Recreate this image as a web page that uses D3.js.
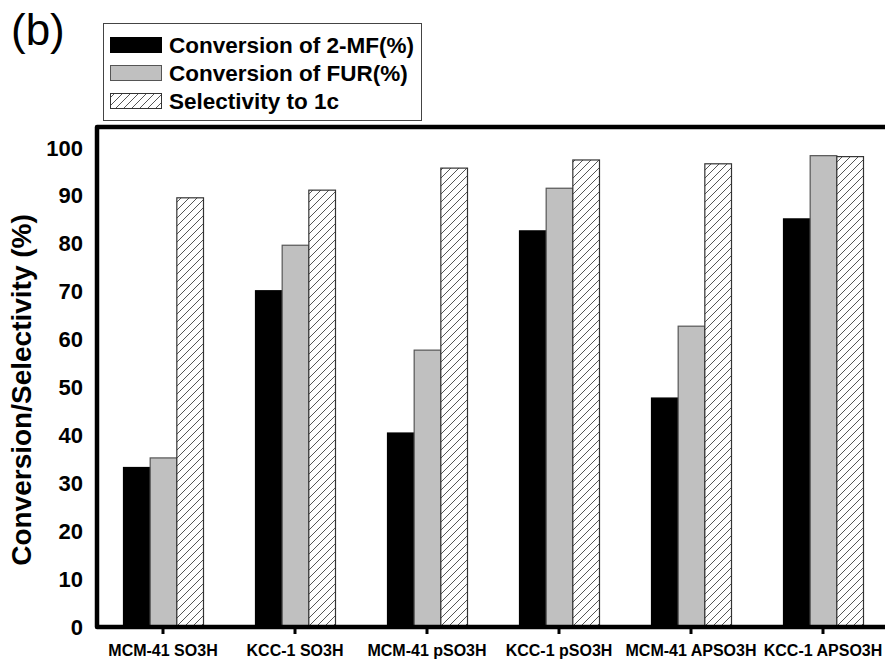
<!DOCTYPE html>
<html>
<head>
<meta charset="utf-8">
<script src="https://cdn.jsdelivr.net/npm/d3@7"></script>
<style>
  html, body { margin: 0; padding: 0; background: #fff; }
  svg { display: block; }
  text { font-family: "Liberation Sans", Arial, sans-serif; }
</style>
</head>
<body>
<svg id="chart" width="885" height="664"></svg>
<script>
// Catalysts along the x axis
const categories = ["MCM-41 SO3H", "KCC-1 SO3H", "MCM-41 pSO3H", "KCC-1 pSO3H", "MCM-41 APSO3H", "KCC-1 APSO3H"];
// Series values (%)
const conversion2MF = [33.3, 70.2, 40.5, 82.7, 47.8, 85.2];
const conversionFUR = [35.3, 79.7, 57.8, 91.6, 62.8, 98.4];
const selectivity1c = [89.6, 91.2, 95.8, 97.5, 96.7, 98.2];
const seriesNames = ["Conversion of 2-MF(%)", "Conversion of FUR(%)", "Selectivity to 1c"];
const yTicks = [0, 10, 20, 30, 40, 50, 60, 70, 80, 90, 100];

const series = [
  { name: seriesNames[0], values: conversion2MF, fill: "#000000", stroke: "#000000" },
  { name: seriesNames[1], values: conversionFUR, fill: "#c0c0c0", stroke: "#555555" },
  { name: seriesNames[2], values: selectivity1c, fill: "url(#hatch)", stroke: "#333333" }
];

const svg = d3.select("#chart");

// Diagonal hatch pattern
const defs = svg.append("defs");
const pat = defs.append("pattern")
  .attr("id", "hatch")
  .attr("patternUnits", "userSpaceOnUse")
  .attr("width", 8).attr("height", 8);
pat.append("rect").attr("width", 8).attr("height", 8).attr("fill", "#fff");
pat.append("path")
  .attr("d", "M-2,2 L2,-2 M0,8 L8,0 M6,10 L10,6")
  .attr("stroke", "#555").attr("stroke-width", 1);

const plot = { left: 97, right: 889, top: 127, bottom: 627 };

const x = d3.scaleBand()
  .domain(categories)
  .range([plot.left, plot.right])
  .paddingInner(0.394)
  .paddingOuter(0.197);

const xs = d3.scaleBand()
  .domain(d3.range(series.length))
  .range([0, x.bandwidth()]);

const y = d3.scaleLinear()
  .domain([0, 100])
  .range([plot.bottom, 148]);

// Bars
const groups = svg.append("g").selectAll("g")
  .data(categories)
  .join("g")
  .attr("transform", d => `translate(${x(d)},0)`);

groups.selectAll("rect")
  .data((c, i) => series.map((s, k) => ({ k, v: s.values[i], s })))
  .join("rect")
  .attr("x", d => xs(d.k) + 0.5)
  .attr("y", d => y(d.v))
  .attr("width", xs.bandwidth())
  .attr("height", d => plot.bottom - y(d.v))
  .attr("fill", d => d.s.fill)
  .attr("stroke", d => d.s.stroke)
  .attr("stroke-width", 1.2);

// Y axis labels (no tick marks)
const yAxis = d3.axisLeft(y).tickValues(yTicks).tickSize(0).tickPadding(14);
const yg = svg.append("g").attr("transform", `translate(${plot.left},0)`).call(yAxis);
yg.select(".domain").remove();
yg.selectAll("text")
  .attr("font-size", 22).attr("font-weight", "bold").attr("fill", "#000")
  .attr("font-family", "Liberation Sans, Arial, sans-serif");

// X axis
const xAxis = d3.axisBottom(x).tickSize(7).tickPadding(11);
const xg = svg.append("g").attr("transform", `translate(0,${plot.bottom})`).call(xAxis);
xg.select(".domain").remove();
xg.selectAll(".tick line").attr("stroke", "#000").attr("stroke-width", 3);
xg.selectAll("text")
  .attr("font-size", 16).attr("font-weight", "bold").attr("fill", "#000")
  .attr("font-family", "Liberation Sans, Arial, sans-serif");

// Frame: top, left and bottom lines
svg.append("path")
  .attr("d", `M${plot.right},${plot.top} L${plot.left},${plot.top} L${plot.left},${plot.bottom} L${plot.right},${plot.bottom}`)
  .attr("fill", "none")
  .attr("stroke", "#000")
  .attr("stroke-width", 4.5)
  .attr("stroke-linejoin", "round");

// Y axis title
svg.append("text")
  .attr("transform", `translate(31,390) rotate(-90)`)
  .attr("text-anchor", "middle")
  .attr("font-size", 28)
  .attr("font-weight", "bold")
  .text("Conversion/Selectivity (%)");

// Panel label
svg.append("text")
  .attr("x", 11).attr("y", 45)
  .attr("font-size", 44)
  .attr("font-family", "DejaVu Sans, sans-serif")
  .text("(b)");

// Legend
const lg = svg.append("g");
lg.append("rect")
  .attr("x", 103.5).attr("y", 23.5).attr("width", 318).attr("height", 97)
  .attr("fill", "#fff").attr("stroke", "#444").attr("stroke-width", 1);
series.forEach((s, i) => {
  const cy = 45 + i * 28;
  lg.append("rect")
    .attr("x", 110.5).attr("y", cy - 7.5).attr("width", 51).attr("height", 15)
    .attr("fill", s.fill).attr("stroke", s.stroke).attr("stroke-width", 1);
  lg.append("text")
    .attr("x", 169).attr("y", cy + 8)
    .attr("font-size", 22.5).attr("font-weight", "bold")
    .text(s.name);
});
</script>
</body>
</html>
